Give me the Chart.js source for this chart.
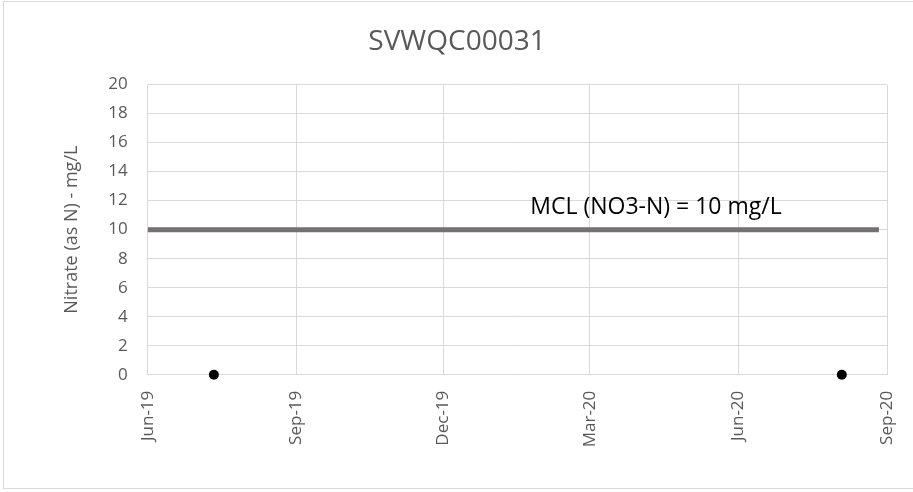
<!DOCTYPE html>
<html>
<head>
<meta charset="utf-8">
<script src="https://cdn.jsdelivr.net/npm/chart.js@4/dist/chart.umd.min.js"></script>
<style>
  body { margin: 0; background: #fff; overflow: hidden; }
  #frame { position: absolute; left: 3px; top: 1px; width: 920px; height: 488px; border: 1px solid #d9d9d9; box-sizing: border-box; }
  #chart { position: absolute; left: 0; top: 0; }
</style>
</head>
<body>
<div id="frame"></div>
<canvas id="chart" width="913" height="492"></canvas>
<script>
// chart data
const sampleDates = ['2019-07-12', '2020-08-04'];
const nitrateValues = [0, 0];
const mclDates = ['2019-06-01', '2020-08-27'];
const mclValues = [10, 10];
const tickDates = ['2019-06-01', '2019-09-01', '2019-12-01', '2020-03-01', '2020-06-01', '2020-09-01'];
const tickLabels = ['Jun-19', 'Sep-19', 'Dec-19', 'Mar-20', 'Jun-20', 'Sep-20'];
const mclLabel = 'MCL (NO3-N) = 10 mg/L';
const mclLabelDate = '2020-01-24';

const toTime = d => Date.parse(d + 'T00:00:00Z');

const FONT = '"Open Sans", "DejaVu Sans", sans-serif';
const GRID = '#d9d9d9';

// writes the MCL text just above its line
const mclTextPlugin = {
    id: 'mclText',
    afterDatasetsDraw(chart) {
        const ctx = chart.ctx;
        const x = chart.scales.x.getPixelForValue(toTime(mclLabelDate));
        const y = chart.scales.y.getPixelForValue(mclValues[0]);
        ctx.save();
        ctx.font = '23px ' + FONT;
        ctx.fillStyle = '#000';
        ctx.textBaseline = 'alphabetic';
        ctx.textAlign = 'left';
        ctx.fillText(mclLabel, x, y - 16);
        ctx.restore();
    }
};

const ctx = document.getElementById('chart').getContext('2d');
const chart = new Chart(ctx, {
    type: 'line',
    data: {
        datasets: [
            {
                label: 'MCL',
                data: mclDates.map((d, i) => ({ x: toTime(d), y: mclValues[i] })),
                borderColor: '#767171',
                borderWidth: 5,
                pointRadius: 0,
                borderCapStyle: 'butt',
                fill: false
            },
            {
                label: 'Nitrate',
                data: sampleDates.map((d, i) => ({ x: toTime(d), y: nitrateValues[i] })),
                showLine: false,
                pointRadius: 5,
                pointBackgroundColor: '#000',
                pointBorderColor: '#000',
                pointBorderWidth: 0,
                clip: false
            }
        ]
    },
    options: {
        responsive: false,
        animation: false,
        layout: { padding: { top: 25, left: 27, right: 26, bottom: 0 } },
        plugins: {
            legend: { display: false },
            tooltip: { enabled: false },
            title: {
                display: true,
                text: 'SVWQC00031',
                color: '#595959',
                font: { family: FONT, size: 28, weight: 'normal', lineHeight: 1.2 },
                padding: { top: 0, bottom: 26 }
            }
        },
        scales: {
            x: {
                type: 'linear',
                min: toTime(tickDates[0]),
                max: toTime(tickDates[tickDates.length - 1]),
                afterBuildTicks: scale => {
                    scale.ticks = tickDates.map(d => ({ value: toTime(d) }));
                },
                afterFit: scale => {
                    scale.height = 117.3;
                    scale.paddingLeft = 0;
                    scale.paddingRight = 0;
                },
                grid: { color: GRID, drawTicks: false },
                border: { display: false },
                ticks: {
                    autoSkip: false,
                    minRotation: 90,
                    maxRotation: 90,
                    padding: 16,
                    color: '#595959',
                    font: { family: FONT, size: 17 },
                    callback: (value, index) => tickLabels[index]
                }
            },
            y: {
                min: 0,
                max: 20,
                afterFit: scale => { scale.width = 120.7; },
                grid: { color: GRID, drawTicks: false },
                border: { display: false },
                ticks: {
                    stepSize: 2,
                    padding: 20,
                    color: '#595959',
                    font: { family: FONT, size: 17 }
                },
                title: {
                    display: true,
                    text: 'Nitrate (as N) - mg/L',
                    color: '#595959',
                    font: { family: FONT, size: 18 },
                    padding: { top: 34, bottom: 0 }
                }
            }
        }
    },
    plugins: [mclTextPlugin]
});
</script>
</body>
</html>
